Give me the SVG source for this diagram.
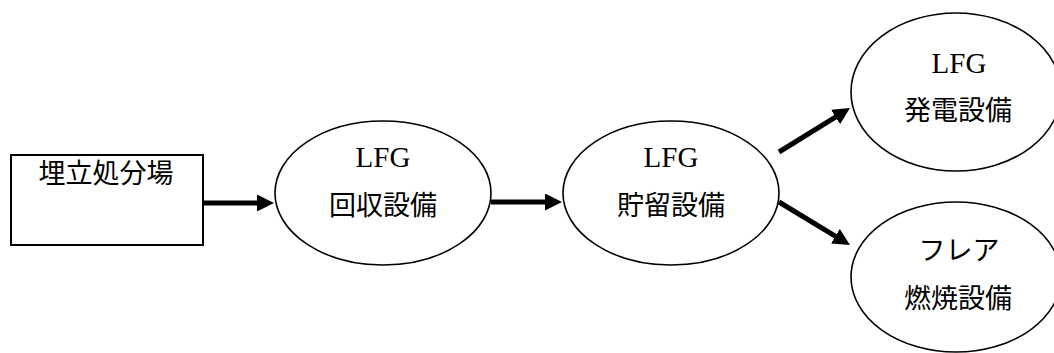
<svg xmlns="http://www.w3.org/2000/svg" width="1054" height="353" viewBox="0 0 1054 353">
<style>
.node{fill:#fff;stroke:#000;stroke-width:1.6}
.box{fill:#fff;stroke:#000;stroke-width:2}
.lat{font-family:"Liberation Serif","Times New Roman",serif;font-size:29px;fill:#000;text-anchor:middle}
.jp{font-family:"Noto Sans CJK JP","Noto Sans",sans-serif;font-size:27px;fill:#000;text-anchor:middle}
.conn{stroke:#000;stroke-width:5;fill:none;marker-end:url(#ah)}
</style>
<defs>
<marker id="ah" markerUnits="userSpaceOnUse" markerWidth="18" markerHeight="18" refX="7" refY="8.5" orient="auto">
<path d="M0,0 L17,8.5 L0,17 Z" fill="#000"/>
</marker>
</defs>
<g id="connectors">
<line class="conn" x1="203" y1="203" x2="264" y2="203"/>
<line class="conn" x1="491" y1="202" x2="552" y2="202"/>
<line class="conn" x1="779" y1="152" x2="841.5" y2="113.3"/>
<line class="conn" x1="779" y1="202" x2="841.4" y2="239.8"/>
</g>
<g id="landfill">
<rect class="box" x="11" y="155" width="192" height="90"/>
<text class="jp" x="106" y="183" font-size="28">埋立処分場</text>
</g>
<g id="recovery">
<ellipse class="node" cx="383" cy="193" rx="108" ry="72"/>
<text class="lat" x="383" y="167">LFG</text>
<text class="jp" x="383" y="215">回収設備</text>
</g>
<g id="storage">
<ellipse class="node" cx="671" cy="193" rx="108" ry="72"/>
<text class="lat" x="671" y="167">LFG</text>
<text class="jp" x="671" y="215">貯留設備</text>
</g>
<g id="power">
<ellipse class="node" cx="956" cy="92" rx="105" ry="79"/>
<text class="lat" x="959" y="73">LFG</text>
<text class="jp" x="958" y="120">発電設備</text>
</g>
<g id="flare">
<ellipse class="node" cx="956" cy="277" rx="105" ry="75"/>
<text class="jp" x="959" y="260">フレア</text>
<text class="jp" x="958" y="308">燃焼設備</text>
</g>
</svg>
